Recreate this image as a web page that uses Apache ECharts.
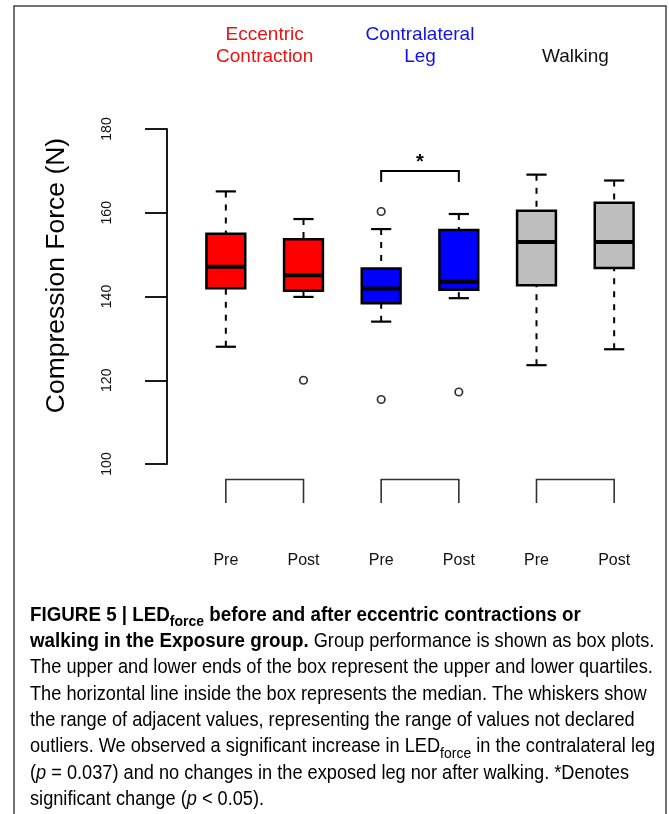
<!DOCTYPE html>
<html>
<head>
<meta charset="utf-8">
<script src="https://cdn.jsdelivr.net/npm/echarts@6/dist/echarts.min.js"></script>
<style>
html,body{margin:0;padding:0;background:#fff;}
#chart{width:669px;height:814px;}
</style>
</head>
<body>
<div id="chart"></div>
<script>
// ---- data ----
var categories = ['Pre', 'Post', 'Pre', 'Post', 'Pre', 'Post'];
var groupLabels = ['Eccentric\nContraction', 'Contralateral\nLeg', 'Walking'];
var groupColors = ['#EE1111', '#1111EE', '#111111'];
var boxColors = ['#FF0000', '#FF0000', '#0000FF', '#0000FF', '#BEBEBE', '#BEBEBE'];
var lowWhisker = [128.0, 139.9, 134.0, 139.6, 123.6, 127.4];
var lowerQuartile = [142.0, 141.4, 138.4, 141.6, 142.7, 146.8];
var medians = [147.1, 145.1, 141.9, 143.5, 153.0, 153.0];
var upperQuartile = [155.0, 153.7, 146.7, 155.9, 160.5, 162.4];
var highWhisker = [165.1, 158.5, 156.1, 159.7, 169.1, 167.7];
var outliers = [[1, 120.0], [2, 160.3], [2, 115.4], [3, 117.2]];
var pairs = [[0, 1], [2, 3], [4, 5]];
var significance = [[2, 3, 170]];
var yMin = 100, yMax = 180, yStep = 20;
var yTitle = 'Compression Force (N)';

var FONT = '"Liberation Sans", Arial, Helvetica, sans-serif';

var boxData = categories.map(function (c, i) {
  return [i, lowWhisker[i], lowerQuartile[i], medians[i], upperQuartile[i], highWhisker[i]];
});

function renderBox(params, api) {
  var i = api.value(0);
  var band = api.size([1, 0])[0];
  var bw = band * 0.5;
  var cw = band * 0.26;
  var pLow = api.coord([i, api.value(1)]);
  var pQ1 = api.coord([i, api.value(2)]);
  var pMed = api.coord([i, api.value(3)]);
  var pQ3 = api.coord([i, api.value(4)]);
  var pHigh = api.coord([i, api.value(5)]);
  var cx = pMed[0];
  var dash = {stroke: '#000', lineWidth: 2, lineDash: [6, 7]};
  var solid = {stroke: '#000', lineWidth: 2.2};
  return {
    type: 'group',
    children: [
      {type: 'line', shape: {x1: cx, y1: pHigh[1], x2: cx, y2: pQ3[1]}, style: dash},
      {type: 'line', shape: {x1: cx, y1: pLow[1], x2: cx, y2: pQ1[1]}, style: dash},
      {type: 'line', shape: {x1: cx - cw / 2, y1: pHigh[1], x2: cx + cw / 2, y2: pHigh[1]}, style: solid},
      {type: 'line', shape: {x1: cx - cw / 2, y1: pLow[1], x2: cx + cw / 2, y2: pLow[1]}, style: solid},
      {type: 'rect', shape: {x: cx - bw / 2, y: pQ3[1], width: bw, height: pQ1[1] - pQ3[1]},
        style: {fill: boxColors[i], stroke: '#000', lineWidth: 2.5}},
      {type: 'line', shape: {x1: cx - bw / 2, y1: pMed[1], x2: cx + bw / 2, y2: pMed[1]},
        style: {stroke: '#000', lineWidth: 4}}
    ]
  };
}

function renderPairBracket(params, api) {
  var a = api.coord([api.value(0), yMin]);
  var b = api.coord([api.value(1), yMin]);
  var top = a[1] + 15.5, bot = a[1] + 39;
  return {
    type: 'polyline',
    shape: {points: [[a[0], bot], [a[0], top], [b[0], top], [b[0], bot]]},
    style: {stroke: '#333', lineWidth: 1.6, fill: null}
  };
}

function renderSignif(params, api) {
  var a = api.coord([api.value(0), api.value(2)]);
  var b = api.coord([api.value(1), api.value(2)]);
  return {
    type: 'group',
    children: [
      {type: 'polyline', shape: {points: [[a[0], a[1] + 11], [a[0], a[1]], [b[0], b[1]], [b[0], b[1] + 11]]},
        style: {stroke: '#000', lineWidth: 2, fill: null}},
      {type: 'text', x: (a[0] + b[0]) / 2, y: a[1] - 8,
        style: {text: '*', fontSize: 20, fontWeight: 'bold', fontFamily: FONT, fill: '#000',
          align: 'center', verticalAlign: 'middle'}}
    ]
  };
}

var captionLines = [
  '{b|FIGURE 5 | LED}{bsub|force}{b| before and after eccentric contractions or}',
  '{b|walking in the Exposure group.}{n| Group performance is shown as box plots.}',
  '{n|The upper and lower ends of the box represent the upper and lower quartiles.}',
  '{n|The horizontal line inside the box represents the median. The whiskers show}',
  '{n|the range of adjacent values, representing the range of values not declared}',
  '{n|outliers. We observed a significant increase in LED}{sub|force}{n| in the contralateral leg}',
  '{n|(}{i|p}{n| = 0.037) and no changes in the exposed leg nor after walking. *Denotes}',
  '{n|significant change (}{i|p}{n| < 0.05).}'
];
var capFs = 18.2;
var capBoldFs = 18.8;
var capRich = {
  b: {fontFamily: FONT, fontSize: capBoldFs, fontWeight: 'bold', color: '#1a1a1a'},
  bsub: {fontFamily: FONT, fontSize: 14, fontWeight: 'bold', color: '#1a1a1a', padding: [12, 0, 0, 0]},
  n: {fontFamily: FONT, fontSize: capFs, color: '#333'},
  sub: {fontFamily: FONT, fontSize: 14, color: '#333', padding: [12, 0, 0, 0]},
  i: {fontFamily: FONT, fontSize: capFs, fontStyle: 'italic', color: '#333'}
};
var captionGraphics = captionLines.map(function (t, k) {
  return {
    type: 'text', x: 30, y: 615 + k * 26.4, scaleY: 1.08, silent: true,
    style: {rich: capRich, text: t, align: 'left', verticalAlign: 'middle'}
  };
});

var chart = echarts.init(document.getElementById('chart'), null, {renderer: 'canvas'});
chart.setOption({
  animation: false,
  backgroundColor: '#fff',
  textStyle: {fontFamily: FONT},
  grid: {left: 187, width: 466, top: 129, height: 335},
  xAxis: [
    {type: 'category', data: categories, position: 'bottom',
      axisLine: {show: false}, axisTick: {show: false}, splitLine: {show: false},
      axisLabel: {margin: 89, fontSize: 16, color: '#111', fontFamily: FONT}},
    {type: 'category', data: groupLabels, position: 'top',
      axisLine: {show: false}, axisTick: {show: false}, splitLine: {show: false},
      axisLabel: {margin: 61, fontSize: 19, lineHeight: 22, fontFamily: FONT,
        color: function (v, idx) { return groupColors[idx]; }}}
  ],
  yAxis: {
    type: 'value', min: yMin, max: yMax, interval: yStep, offset: 20,
    name: yTitle, nameLocation: 'middle', nameRotate: 90, nameGap: 97,
    nameTextStyle: {fontSize: 26.5, color: '#000', fontFamily: FONT, padding: [0, 0, 0, 42]},
    axisLine: {show: true, lineStyle: {color: '#000', width: 1.8}},
    axisTick: {show: true, length: 22, lineStyle: {color: '#000', width: 1.8}},
    axisLabel: {rotate: 90, margin: 53, fontSize: 14, color: '#111', fontFamily: FONT},
    splitLine: {show: false}
  },
  series: [
    {type: 'custom', name: 'box', data: boxData, renderItem: renderBox,
      encode: {x: 0, y: [1, 2, 3, 4, 5]}, clip: false, z: 2},
    {type: 'scatter', name: 'outliers', data: outliers, symbol: 'circle', symbolSize: 7.5,
      itemStyle: {color: '#fff', borderColor: '#000', borderWidth: 1.7}, z: 3},
    {type: 'custom', name: 'pairs', data: pairs, renderItem: renderPairBracket,
      encode: {x: [0, 1]}, clip: false},
    {type: 'custom', name: 'signif', data: significance, renderItem: renderSignif,
      encode: {x: [0, 1], y: 2}, clip: false}
  ],
  graphic: [
    {type: 'polyline', shape: {points: [[14, 814], [14, 6], [666, 6], [666, 814]]},
      style: {stroke: '#444', lineWidth: 1.5, fill: null}, silent: true}
  ].concat(captionGraphics)
});
</script>
</body>
</html>
